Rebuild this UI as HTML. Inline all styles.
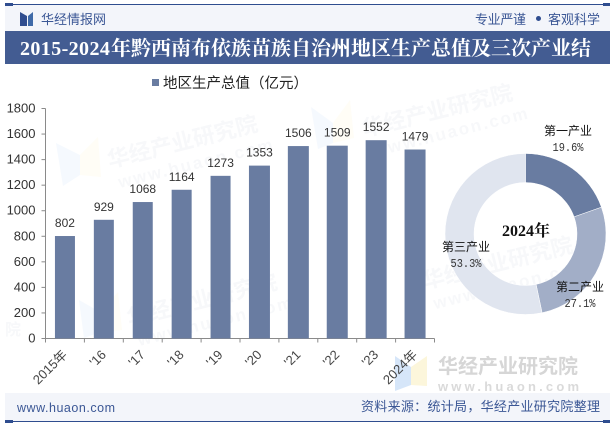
<!DOCTYPE html>
<html lang="zh">
<head>
<meta charset="utf-8">
<title>2015-2024年黔西南布依族苗族自治州地区生产总值及三次产业结构</title>
<style>
html,body{margin:0;padding:0;background:#fff;}
body{width:615px;height:427px;overflow:hidden;}
svg{display:block;}
text{font-family:"Liberation Sans","Noto Sans CJK SC",sans-serif;}
.cjk{font-family:"Liberation Sans","WenQuanYi Zen Hei","Noto Sans CJK SC",sans-serif;}
.serif{font-family:"Liberation Serif","Noto Serif CJK SC",serif;}
</style>
</head>
<body>
<svg id="chart" width="615" height="427" viewBox="0 0 615 427" xmlns="http://www.w3.org/2000/svg">
  <g id="watermarks" opacity="0.05" fill="#5a6f9a" font-weight="700">
    <g transform="rotate(-14 180 140)">
      <text x="105" y="150" font-size="22">华经产业研究院</text>
      <text x="110" y="172" font-size="17" letter-spacing="2">www.huaon.com</text>
    </g>
    <g transform="rotate(-14 430 110)">
      <text x="360" y="120" font-size="22">华经产业研究院</text>
      <text x="365" y="142" font-size="17" letter-spacing="2">www.huaon.com</text>
    </g>
    <g transform="rotate(-14 200 300)">
      <text x="125" y="308" font-size="22">华经产业研究院</text>
      <text x="130" y="330" font-size="17" letter-spacing="2">www.huaon.com</text>
    </g>
    <g transform="rotate(-14 500 260)">
      <text x="420" y="270" font-size="22">华经产业研究院</text>
      <text x="425" y="292" font-size="17" letter-spacing="2">www.huaon.com</text>
    </g>
    <text x="5" y="335" font-size="16">院</text>
  </g>
  <g id="watermark-logos" opacity="0.06">
    <polygon points="56,143 80,155 80,175 63,186" fill="#5b9be8"/>
    <polygon points="80,155 98,137 101,177 80,175" fill="#f5d76e"/>
    <polygon points="311,107 333,123 333,143 318,149" fill="#5b9be8"/>
    <polygon points="333,123 350,100 354,138 333,143" fill="#f5d76e"/>
    <polygon points="79,300 100,312 100,332 84,338" fill="#5b9be8"/>
    <polygon points="100,312 118,292 122,330 100,332" fill="#f5d76e"/>
  </g>

  <g>
    <rect x="5" y="5" width="605" height="26" fill="#f3f5fa"/>
    <rect x="5" y="4" width="605" height="1" fill="#2f4d8f"/>
    <rect x="5" y="3" width="8" height="3" fill="#2f4d8f"/>
    <rect x="603" y="3" width="7" height="3" fill="#2f4d8f"/>
    <g>
      <polygon points="20,12 27,16 27,26 20,26" fill="#2f4d8f"/>
      <polygon points="33,12 33,26 28,26 28,16" fill="#3f6aa8"/>
    </g>
    <text class="cjk" x="41" y="24" font-size="13" fill="#3b5795" textLength="65">华经情报网</text>
    <text class="cjk" x="475" y="24" font-size="13" fill="#3b5795" textLength="51">专业严谨</text>
    <circle cx="538.500" cy="18.500" r="2.500" fill="#2f4d8f"/>
    <text class="cjk" x="548" y="24" font-size="13" fill="#3b5795" textLength="52">客观科学</text>
  </g>

  <rect x="5" y="31" width="605" height="33" fill="#435c92"/>
  <text class="serif" x="20" y="55" font-size="20" font-weight="700" fill="#fff"><tspan letter-spacing="0.4">2015-2024</tspan><tspan x="111">年黔西南布依族苗族自治州地区生产总值及三次产业结</tspan></text>

  <rect x="152" y="79" width="7" height="7" fill="#697ca1"/>
  <text class="cjk" x="163" y="88" font-size="14.500" fill="#222">地区生产总值（亿元）</text>

  <g opacity="0.75">
    <polygon points="395,356 411,367 411,385 395,391" fill="#c9def7"/>
    <polygon points="411,367 427,356 427,386 411,385" fill="#fbf3cf"/>
  </g>

  <g id="bar-chart"></g>
  <g id="donut-chart"></g>

  <text x="438" y="373" font-size="20" font-weight="700" fill="#d6d6d6">华经产业研究院</text>
  <text x="438" y="391" font-size="13" font-weight="700" fill="#dadada" textLength="141">www.huaon.com</text>

  <g>
    <rect x="5" y="393" width="605" height="28" fill="#f3f5fa"/>
    <rect x="5" y="421" width="605" height="1" fill="#2f4d8f"/>
    <rect x="5" y="420" width="8" height="3" fill="#2f4d8f"/>
    <rect x="603" y="420" width="7" height="3" fill="#2f4d8f"/>
    <text x="17" y="412" font-size="12.500" font-weight="400" fill="#3b5795" textLength="98">www.huaon.com</text>
    <text class="cjk" x="361" y="411" font-size="13" fill="#3b5795" textLength="239">资料来源：统计局，华经产业研究院整理</text>
  </g>
</svg>
<script>
var years = ["2015年", "'16", "'17", "'18", "'19", "'20", "'21", "'22", "'23", "2024年"];
var gdpValues = [802, 929, 1068, 1164, 1273, 1353, 1506, 1509, 1552, 1479];
var yTicks = [0, 200, 400, 600, 800, 1000, 1200, 1400, 1600, 1800];
var shareNames = ["第一产业", "第二产业", "第三产业"];
var shareValues = [19.6, 27.1, 53.3];
var donutYear = "2024年";

var NS = "http://www.w3.org/2000/svg";
function make(tag, attrs, parent, txt) {
  var el = document.createElementNS(NS, tag);
  for (var k in attrs) el.setAttribute(k, attrs[k]);
  if (txt !== undefined) el.textContent = txt;
  parent.appendChild(el);
  return el;
}
var plot = {left: 45.5, right: 434.5, top: 108.5, bottom: 338.5};
var yMax = yTicks[yTicks.length - 1];
function yScale(v) { return plot.bottom - (v / yMax) * (plot.bottom - plot.top); }
function bandWidth() { return (plot.right - plot.left) / years.length; }
function xBand(i) { return plot.left + bandWidth() * (i + 0.5); }

var bars = document.getElementById("bar-chart");
var axisColor = "#8a8a8a";

var yAxis = make("line", {x1: plot.left, x2: plot.left, y1: plot.top, y2: plot.bottom, stroke: axisColor}, bars);


var xAxis = make("line", {x1: plot.left, x2: plot.right, y1: plot.bottom, y2: plot.bottom, stroke: axisColor}, bars);



yTicks.forEach(function (t) {
  var y = yScale(t);
  var tick = make("line", {x1: plot.left - 4, x2: plot.left, y1: y, y2: y, stroke: axisColor}, bars);
  
  
  var label = make("text", {x: plot.left - 10, y: y + 4, "text-anchor": "end", "font-size": 13, fill: "#333"}, bars, String(t));
  
  
});

for (var i = 0; i <= years.length; i++) {
  var tx = plot.left + bandWidth() * i;
  var xt = make("line", {x1: tx, x2: tx, y1: plot.bottom, y2: plot.bottom + 4, stroke: axisColor}, bars);
  
  
}

gdpValues.forEach(function (v, i) {
  var cx = xBand(i);
  var w = (i < 5) ? 20 : 21;
  var bar = make("rect", {x: cx - w / 2, y: yScale(v), width: w, height: plot.bottom - yScale(v), fill: "#697ca1"}, bars);
  
  
  var val = make("text", {x: cx, y: yScale(v) - 9, "text-anchor": "middle", "font-size": 12, fill: "#333"}, bars, String(v));
  
  
  var ax = cx + 3, ay = plot.bottom + 17;
  var cat = make("text", {x: ax, y: ay, "text-anchor": "end", "font-size": 13, fill: "#444", transform: "rotate(-45 " + ax + " " + ay + ")"}, bars, years[i]);
  
  
});

var donut = document.getElementById("donut-chart");
var dc = {x: 525.5, y: 234, outer: 80.5, inner: 51.5};
var donutColors = ["#697ca1", "#a2aec7", "#e0e5ef"];
var labelPos = [[568, 135, 151], [580, 291, 307], [466, 251, 267]];
function polar(r, frac) {
  var a = frac * 2 * Math.PI - Math.PI / 2;
  return [dc.x + r * Math.cos(a), dc.y + r * Math.sin(a)];
}
var shareTotal = shareValues.reduce(function (a, b) { return a + b; }, 0);
var cum = 0;
shareValues.forEach(function (v, i) {
  var s = cum / shareTotal, e = (cum + v) / shareTotal;
  cum += v;
  var large = (e - s) > 0.5 ? 1 : 0;
  var p1 = polar(dc.outer, s), p2 = polar(dc.outer, e), p3 = polar(dc.inner, e), p4 = polar(dc.inner, s);
  var d = "M" + p1[0] + " " + p1[1] + "A" + dc.outer + " " + dc.outer + " 0 " + large + " 1 " + p2[0] + " " + p2[1] +
          "L" + p3[0] + " " + p3[1] + "A" + dc.inner + " " + dc.inner + " 0 " + large + " 0 " + p4[0] + " " + p4[1] + "Z";
  var slice = make("path", {d: d, fill: donutColors[i], stroke: "#fff", "stroke-width": 0.5}, donut);
  
  
});
shareValues.forEach(function (v, i) {
  var lp = labelPos[i];
  var nm = make("text", {"class": "cjk", x: lp[0], y: lp[1], "text-anchor": "middle", "font-size": 12, fill: "#111"}, donut, shareNames[i]);
  
  
  var pc = make("text", {x: lp[0], y: lp[2], "text-anchor": "middle", "font-size": 12, textLength: 31, lengthAdjust: "spacingAndGlyphs", fill: "#333", style: "font-family:'Liberation Mono',monospace"}, donut, v.toFixed(1) + "%");
  
  
});
var center = make("text", {"class": "serif", x: dc.x + 0.5, y: 236, "text-anchor": "middle", "font-size": 16, "font-weight": 700, fill: "#111"}, donut, donutYear);


</script>
</body>
</html>
